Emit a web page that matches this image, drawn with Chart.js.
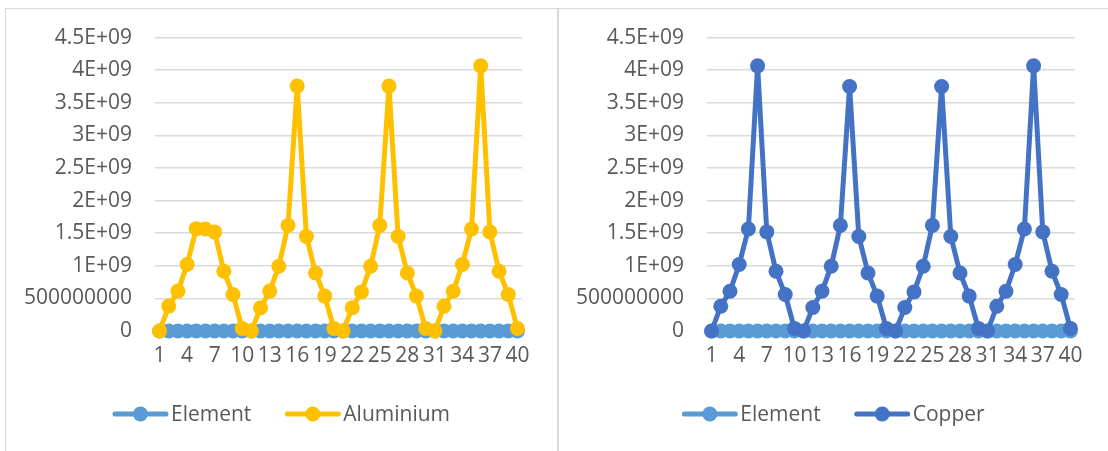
<!DOCTYPE html>
<html>
<head>
<meta charset="utf-8">
<script src="https://cdn.jsdelivr.net/npm/chart.js@4"></script>
<style>
  body { margin: 0; background: #fff; }
  .frame { position: absolute; background: #d9d9d9; }
  canvas { position: absolute; }
</style>
</head>
<body>
<div class="frame" style="left:5px; top:8px; width:1103px; height:1px;"></div>
<div class="frame" style="left:5px; top:8px; width:1px; height:443px;"></div>
<div class="frame" style="left:557px; top:8px; width:2px; height:443px;"></div>
<canvas class="chart1" width="551" height="449" style="left:6px; top:2px;"></canvas>
<canvas class="chart2" width="549" height="449" style="left:559px; top:2px;"></canvas>
<script>
// categorieen op de x as
const labels = ['1','2','3','4','5','6','7','8','9','10','11','12','13','14','15','16','17','18','19','20',
  '21','22','23','24','25','26','27','28','29','30','31','32','33','34','35','36','37','38','39','40'];

// waarden zoals
const elementValues = [0,0,0,0,0,0,0,0,0,0,0,0,0,0,0,0,0,0,0,0,0,0,0,0,0,0,0,0,0,0,0,0,0,0,0,0,0,0,0,0];
const aluminiumValues = [0, 382e6, 612e6, 1020e6, 1570e6, 1565e6, 1520e6, 917e6, 560e6, 40e6,
  0, 357e6, 612e6, 994e6, 1620e6, 3756e6, 1450e6, 890e6, 535e6, 40e6,
  0, 357e6, 600e6, 994e6, 1620e6, 3756e6, 1450e6, 890e6, 535e6, 40e6,
  0, 380e6, 610e6, 1020e6, 1565e6, 4067e6, 1520e6, 917e6, 560e6, 40e6];
const copperValues = [0, 380e6, 610e6, 1020e6, 1565e6, 4067e6, 1520e6, 917e6, 560e6, 40e6,
  0, 360e6, 610e6, 994e6, 1620e6, 3750e6, 1450e6, 890e6, 535e6, 40e6,
  0, 360e6, 600e6, 994e6, 1620e6, 3750e6, 1450e6, 890e6, 535e6, 40e6,
  0, 380e6, 610e6, 1020e6, 1565e6, 4067e6, 1520e6, 917e6, 560e6, 40e6];

// labels op de y as
const yTickLabels = ['0','500000000','1E+09','1.5E+09','2E+09','2.5E+09','3E+09','3.5E+09','4E+09','4.5E+09'];

const textColor = '#595959';
const fontFamily = '"Open Sans", sans-serif';

// legenda zoals in Excel: lijn met bolletje en dan de tekst
const excelLegend = {
  id: 'excelLegend',
  afterDraw(chart) {
    const ctx = chart.ctx;
    const sets = chart.data.datasets;
    ctx.save();
    ctx.font = '21px ' + fontFamily;
    const lineW = 55, gapText = 3, gapItem = 34;
    let total = 0;
    sets.forEach(function(ds, i) {
      total += lineW + gapText + ctx.measureText(ds.label).width;
      if (i > 0) total += gapItem;
    });
    let x = (chart.width - total) / 2;
    const y = chart.height - 37;
    sets.forEach(function(ds) {
      ctx.strokeStyle = ds.borderColor;
      ctx.lineWidth = 5;
      ctx.lineCap = 'round';
      ctx.beginPath();
      ctx.moveTo(x + 2, y);
      ctx.lineTo(x + lineW - 2, y);
      ctx.stroke();
      ctx.fillStyle = ds.borderColor;
      ctx.beginPath();
      ctx.arc(x + lineW / 2, y, 7.5, 0, Math.PI * 2);
      ctx.fill();
      ctx.fillStyle = textColor;
      ctx.textAlign = 'left';
      ctx.textBaseline = 'middle';
      ctx.fillText(ds.label, x + lineW + gapText, y + 1);
      x += lineW + gapText + ctx.measureText(ds.label).width + gapItem;
    });
    ctx.restore();
  }
};

function makeChart(canvas, name, values, color, yWidth, rightPad) {
  return new Chart(canvas, {
    type: 'line',
    data: {
      labels: labels,
      datasets: [{
        label: 'Element',
        data: elementValues,
        borderColor: '#5B9BD5',
        backgroundColor: '#5B9BD5',
        borderWidth: 5,
        pointRadius: 7.5,
        pointBorderWidth: 0,
        clip: false,
        order: 2
      }, {
        label: name,
        data: values,
        borderColor: color,
        backgroundColor: color,
        borderWidth: 5,
        pointRadius: 7.5,
        pointBorderWidth: 0,
        clip: false,
        order: 1
      }]
    },
    options: {
      responsive: false,
      animation: false,
      devicePixelRatio: 1,
      layout: { padding: { top: 22, right: rightPad, bottom: 83, left: 0 } },
      plugins: { legend: { display: false }, tooltip: { enabled: false } },
      scales: {
        x: {
          offset: true,
          grid: { display: false, drawTicks: false },
          border: { display: false },
          afterFit: function(scale) { scale.height = 37; },
          ticks: {
            autoSkip: false,
            maxRotation: 0,
            padding: 12,
            color: textColor,
            font: { family: fontFamily, size: 21 },
            callback: function(v, i) { return i % 3 === 0 ? labels[i] : ''; }
          }
        },
        y: {
          min: 0,
          max: 4.5e9,
          grid: { color: '#d9d9d9', lineWidth: 1.5, drawTicks: false },
          border: { display: false },
          afterFit: function(scale) { scale.width = yWidth; },
          ticks: {
            stepSize: 5e8,
            padding: 23,
            color: textColor,
            font: { family: fontFamily, size: 21 },
            callback: function(v, i) { return yTickLabels[i]; }
          }
        }
      }
    },
    plugins: [excelLegend]
  });
}

makeChart(document.querySelector('.chart1'), 'Aluminium', aluminiumValues, '#FFC000', 149, 35);
makeChart(document.querySelector('.chart2'), 'Copper', copperValues, '#4472C4', 148, 33);
</script>
</body>
</html>
